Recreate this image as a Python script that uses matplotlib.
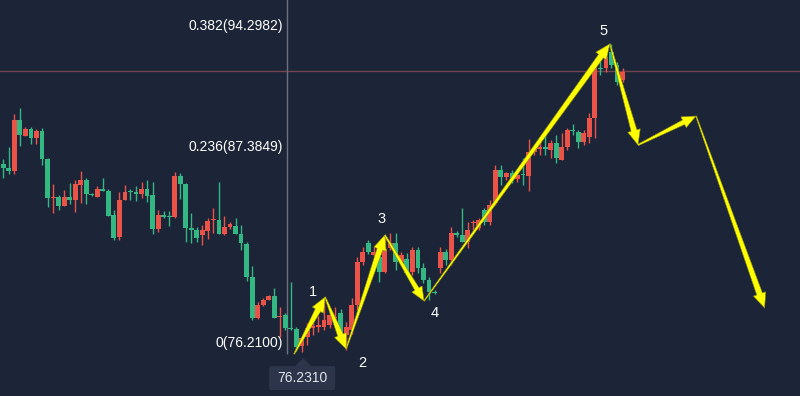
import numpy as np
import matplotlib
matplotlib.use('Agg')
import matplotlib.pyplot as plt
from matplotlib.patches import Polygon, FancyBboxPatch

plt.rcParams['font.family'] = ['Liberation Sans', 'DejaVu Sans']

bg = '#1c2437'
up_col = '#eb5248'
dn_col = '#33b883'
yel = '#ffff00'

# candles (red = close above open, green = close below open)
opens = [87.06, 86.83, 86.66, 89.56, 88.65, 89.05, 88.54, 88.94, 87.34, 85.12,
         85.18, 84.66, 85.18, 85.01, 85.86, 86.14, 85.35, 85.18, 85.63, 85.52,
         84.15, 82.90, 85.01, 85.52, 85.46, 85.35, 85.63, 85.29, 83.35, 84.15,
         84.10, 84.04, 86.37, 85.92, 83.41, 83.30, 83.01, 83.24, 83.87, 83.87,
         83.07, 83.47, 83.52, 83.07, 82.50, 80.62, 78.28, 79.02, 79.31, 79.54,
         78.34, 78.45, 77.71, 77.66, 76.69, 77.20, 77.71, 77.77, 77.77, 77.88,
         78.28, 78.57, 77.31, 77.60, 79.02, 81.48, 82.56, 81.88, 81.76, 80.91,
         82.27, 82.56, 81.48, 81.65, 80.91, 82.16, 81.13, 80.45, 79.76, 81.13,
         82.04, 81.59, 83.13, 83.01, 82.61, 83.70, 83.41, 84.44, 83.75, 84.84,
         86.71, 86.31, 86.54, 86.20, 86.49, 86.37, 87.74, 87.91, 88.02, 87.85,
         88.25, 87.28, 88.02, 88.99, 88.88, 88.31, 88.59, 89.68, 92.53, 92.53,
         93.44, 92.70, 91.84]
highs = [87.34, 88.02, 89.90, 90.25, 89.17, 89.17, 89.05, 89.11, 87.40, 85.92,
         85.29, 85.58, 85.97, 86.14, 86.66, 86.26, 85.40, 85.80, 86.26, 85.63,
         84.44, 85.46, 85.86, 85.63, 85.80, 86.03, 86.14, 86.03, 84.44, 84.38,
         84.38, 86.60, 86.54, 85.97, 84.27, 83.47, 83.58, 83.98, 84.55, 86.03,
         84.10, 83.75, 83.98, 83.58, 82.61, 81.25, 79.19, 79.42, 79.59, 79.99,
         78.91, 78.57, 80.34, 77.77, 77.26, 78.00, 78.28, 78.40, 79.48, 78.74,
         78.91, 78.80, 78.06, 79.42, 81.76, 82.33, 82.73, 82.33, 81.99, 83.01,
         83.13, 83.13, 82.04, 81.99, 82.33, 82.33, 81.42, 80.62, 79.88, 82.33,
         82.21, 83.47, 83.24, 84.55, 83.75, 83.87, 83.98, 84.55, 85.01, 86.99,
         86.99, 86.60, 86.71, 86.54, 87.40, 88.48, 88.02, 88.42, 88.71, 88.42,
         88.71, 88.82, 89.11, 89.33, 88.99, 88.99, 89.96, 92.98, 92.98, 93.55,
         93.89, 92.87, 92.53]
lows = [86.26, 86.49, 86.49, 88.08, 88.65, 88.20, 88.20, 87.00, 84.61, 84.27,
        84.44, 84.66, 84.78, 84.32, 84.84, 84.78, 85.23, 85.18, 85.52, 84.10,
        82.73, 82.73, 85.01, 85.01, 84.95, 85.12, 84.89, 83.07, 83.18, 83.98,
        83.52, 83.98, 85.06, 82.61, 82.56, 82.61, 82.44, 82.79, 83.13, 83.07,
        83.01, 83.35, 83.07, 82.16, 80.39, 78.17, 78.23, 78.97, 79.31, 78.28,
        77.20, 77.60, 77.60, 76.40, 76.34, 76.74, 77.31, 77.48, 77.60, 77.71,
        77.88, 77.26, 76.46, 77.37, 78.74, 81.30, 81.93, 81.76, 80.34, 80.85,
        82.16, 81.02, 81.30, 80.74, 80.74, 80.85, 80.28, 79.31, 79.65, 80.85,
        81.30, 81.30, 82.90, 82.61, 82.27, 83.30, 83.30, 83.58, 83.58, 84.72,
        85.86, 86.14, 85.97, 86.03, 85.86, 85.52, 87.57, 87.57, 87.57, 87.40,
        87.11, 87.28, 87.85, 88.71, 87.97, 88.14, 88.25, 88.54, 92.13, 92.30,
        92.53, 91.56, 91.73]
closes = [86.83, 86.66, 89.56, 88.71, 89.05, 88.54, 88.94, 87.34, 85.12, 85.18,
          84.66, 85.18, 85.01, 85.92, 86.14, 85.35, 85.29, 85.63, 85.52, 84.10,
          82.84, 85.01, 85.46, 85.46, 85.35, 85.63, 85.23, 83.35, 84.15, 84.04,
          84.04, 86.37, 85.92, 83.41, 83.30, 82.84, 83.30, 83.81, 83.92, 83.07,
          83.47, 83.64, 83.07, 82.56, 80.62, 78.28, 79.02, 79.31, 79.54, 78.28,
          78.40, 77.71, 77.66, 76.63, 77.14, 77.71, 77.83, 77.88, 78.17, 78.45,
          78.34, 77.43, 77.77, 79.02, 81.48, 82.04, 82.04, 82.04, 80.91, 82.21,
          82.56, 81.48, 81.88, 80.85, 82.16, 81.13, 80.45, 79.76, 79.71, 82.04,
          81.59, 83.13, 83.01, 82.61, 83.30, 83.75, 83.87, 83.75, 84.72, 86.71,
          86.31, 86.54, 86.14, 86.43, 86.43, 87.74, 87.91, 88.02, 87.91, 88.25,
          87.40, 88.02, 88.99, 88.94, 88.31, 88.82, 89.68, 92.53, 92.47, 93.15,
          92.70, 91.73, 92.30]

# Elliott wave points (candle index, price) and labels
wave_x = [52.6, 58.2, 62.0, 69.0, 76.1, 109.7, 114.8, 125.3, 137.7]
wave_y = [76.231, 79.48, 76.52, 83.01, 79.25, 93.90, 88.14, 89.79, 78.85]
wave_labels = ['', '1', '2', '3', '4', '5', '', '', '']
label_offsets = [(0, 0), (-12, 5), (16, -14), (-3, 16), (11, -12), (-6, 13), (0, 0), (0, 0), (0, 0)]

# fibonacci levels
fib_ratio = ['0.382', '0.236', '0']
fib_price = [94.2982, 87.3849, 76.2100]
cross_x = 51.3
cross_y = 92.36
start_value = '76.2310'

fig = plt.figure(figsize=(8, 3.96), dpi=100, facecolor=bg)
ax = fig.add_axes([0, 0, 1, 1])
ax.set_facecolor(bg)
ax.set_xlim(-0.6, 144.1)
ax.set_ylim(73.84, 96.40)
ax.axis('off')

o = np.array(opens); h = np.array(highs); l = np.array(lows); c = np.array(closes)
idx = np.arange(len(o))
cols = np.where(c >= o, up_col, dn_col)
ax.vlines(idx, l, h, colors=cols, linewidth=1, zorder=2)
body = np.maximum(np.abs(c - o), 0.05)
ax.bar(idx, body, bottom=np.minimum(o, c), width=0.88, color=cols, linewidth=0, zorder=3)

# crosshair
ax.axhline(cross_y, color='#6e4650', linewidth=1, zorder=1)
ax.vlines(cross_x, 76.25, 97, color='#6b717d', linewidth=1, zorder=1)

# fib labels
for r, p in zip(fib_ratio, fib_price):
    ax.annotate(f'{r}({p:.4f})', (50.6, p), xytext=(0, 11), textcoords='offset pixels',
                ha='right', va='center', color='white', fontsize=10, zorder=6)

fig.canvas.draw()
to_px = ax.transData.transform
to_data = ax.transData.inverted().transform


def tapered_arrow(p0, p1, w0=1.0, w1=6.0, hw=13.0, hl=15.0):
    a = to_px(p0); b = to_px(p1)
    d = b - a
    L = np.hypot(*d)
    u = d / L
    n = np.array([-u[1], u[0]])
    base = b - u * hl
    pts = [a + n * w0 / 2, base + n * w1 / 2, base + n * hw / 2, b,
           base - n * hw / 2, base - n * w1 / 2, a - n * w0 / 2]
    poly = Polygon(to_data(np.array(pts)), closed=True, facecolor=yel,
                   edgecolor='#8a8a1a', linewidth=0.4, zorder=5)
    ax.add_patch(poly)


for i in range(len(wave_x) - 1):
    if i == 3 or i == 6:
        tapered_arrow((wave_x[i], wave_y[i]), (wave_x[i + 1], wave_y[i + 1]), w0=1.5, w1=5, hw=12, hl=14)
    else:
        tapered_arrow((wave_x[i], wave_y[i]), (wave_x[i + 1], wave_y[i + 1]))

for x, y, t, off in zip(wave_x, wave_y, wave_labels, label_offsets):
    if t:
        ax.annotate(t, (x, y), xytext=off, textcoords='offset pixels', ha='center',
                    va='center', color='white', fontsize=10.5, zorder=6)

# tooltip below the start point
sp = to_px((wave_x[0], wave_y[0]))
tip = sp + np.array([9, -4])
box_c = sp + np.array([8, -24])
tri = np.array([tip, tip + np.array([-8, -8]), tip + np.array([8, -8])])
ax.add_patch(Polygon(to_data(tri), closed=True, facecolor='#2c3549', edgecolor='none', zorder=7))
bl = to_data(box_c - np.array([33, 12]))
tr = to_data(box_c + np.array([33, 12]))
ax.add_patch(FancyBboxPatch(bl, tr[0] - bl[0], tr[1] - bl[1],
                            boxstyle='round,pad=0,rounding_size=0.6', mutation_aspect=0.12,
                            facecolor='#2c3549', edgecolor='none', zorder=7))
cd = to_data(box_c)
ax.text(cd[0], cd[1], start_value, ha='center', va='center', color='#dfe3ea', fontsize=10, zorder=8)

fig.savefig('out.png', dpi=100, facecolor=bg)
